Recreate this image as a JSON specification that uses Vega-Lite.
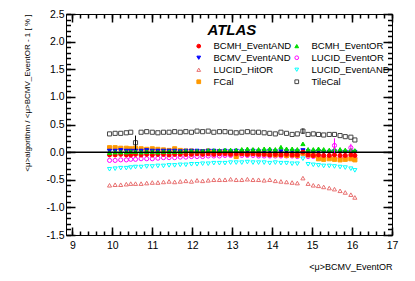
{
"$schema": "https://vega.github.io/schema/vega-lite/v6.json",
"width": 326, "height": 221,
"autosize": "none",
"padding": {"left": 66, "top": 14, "right": 23, "bottom": 46},
"background": "white",
"config": {"view": {"stroke": "black"}, "font": "Liberation Sans"},
"resolve": {"axis": {"x": "independent", "y": "independent"}},
"layer": [
{"data": {"values": [
{"s":"LUCID_HitOR","x":9.93,"y":-0.6},{"s":"LUCID_HitOR","x":10.07,"y":-0.59},{"s":"LUCID_HitOR","x":10.21,"y":-0.59},{"s":"LUCID_HitOR","x":10.35,"y":-0.58},{"s":"LUCID_HitOR","x":10.46,"y":-0.57},{"s":"LUCID_HitOR","x":10.58,"y":-0.57},{"s":"LUCID_HitOR","x":10.72,"y":-0.57},{"s":"LUCID_HitOR","x":10.86,"y":-0.56},{"s":"LUCID_HitOR","x":11.0,"y":-0.55},{"s":"LUCID_HitOR","x":11.14,"y":-0.55},
{"s":"LUCID_HitOR","x":11.28,"y":-0.54},{"s":"LUCID_HitOR","x":11.42,"y":-0.53},{"s":"LUCID_HitOR","x":11.56,"y":-0.54},{"s":"LUCID_HitOR","x":11.7,"y":-0.53},{"s":"LUCID_HitOR","x":11.84,"y":-0.52},{"s":"LUCID_HitOR","x":11.98,"y":-0.53},{"s":"LUCID_HitOR","x":12.12,"y":-0.51},{"s":"LUCID_HitOR","x":12.26,"y":-0.52},{"s":"LUCID_HitOR","x":12.4,"y":-0.51},{"s":"LUCID_HitOR","x":12.54,"y":-0.5},
{"s":"LUCID_HitOR","x":12.68,"y":-0.5},{"s":"LUCID_HitOR","x":12.82,"y":-0.5},{"s":"LUCID_HitOR","x":12.96,"y":-0.49},{"s":"LUCID_HitOR","x":13.1,"y":-0.5},{"s":"LUCID_HitOR","x":13.24,"y":-0.5},{"s":"LUCID_HitOR","x":13.38,"y":-0.49},{"s":"LUCID_HitOR","x":13.52,"y":-0.5},{"s":"LUCID_HitOR","x":13.66,"y":-0.5},{"s":"LUCID_HitOR","x":13.8,"y":-0.51},{"s":"LUCID_HitOR","x":13.94,"y":-0.5},
{"s":"LUCID_HitOR","x":14.08,"y":-0.52},{"s":"LUCID_HitOR","x":14.22,"y":-0.53},{"s":"LUCID_HitOR","x":14.36,"y":-0.54},{"s":"LUCID_HitOR","x":14.5,"y":-0.55},{"s":"LUCID_HitOR","x":14.63,"y":-0.56},{"s":"LUCID_HitOR","x":14.77,"y":-0.47},{"s":"LUCID_HitOR","x":14.9,"y":-0.57},{"s":"LUCID_HitOR","x":15.03,"y":-0.6},{"s":"LUCID_HitOR","x":15.16,"y":-0.61},{"s":"LUCID_HitOR","x":15.29,"y":-0.63},
{"s":"LUCID_HitOR","x":15.43,"y":-0.65},{"s":"LUCID_HitOR","x":15.56,"y":-0.67},{"s":"LUCID_HitOR","x":15.7,"y":-0.7},{"s":"LUCID_HitOR","x":15.83,"y":-0.73},{"s":"LUCID_HitOR","x":15.97,"y":-0.77},{"s":"LUCID_HitOR","x":16.07,"y":-0.82},
{"s":"LUCID_EventAND","x":9.93,"y":-0.31},{"s":"LUCID_EventAND","x":10.07,"y":-0.3},{"s":"LUCID_EventAND","x":10.21,"y":-0.29},{"s":"LUCID_EventAND","x":10.35,"y":-0.29},{"s":"LUCID_EventAND","x":10.46,"y":-0.28},{"s":"LUCID_EventAND","x":10.58,"y":-0.27},{"s":"LUCID_EventAND","x":10.72,"y":-0.27},{"s":"LUCID_EventAND","x":10.86,"y":-0.26},{"s":"LUCID_EventAND","x":11.0,"y":-0.26},{"s":"LUCID_EventAND","x":11.14,"y":-0.25},
{"s":"LUCID_EventAND","x":11.28,"y":-0.25},{"s":"LUCID_EventAND","x":11.42,"y":-0.24},{"s":"LUCID_EventAND","x":11.56,"y":-0.24},{"s":"LUCID_EventAND","x":11.7,"y":-0.23},{"s":"LUCID_EventAND","x":11.84,"y":-0.23},{"s":"LUCID_EventAND","x":11.98,"y":-0.22},{"s":"LUCID_EventAND","x":12.12,"y":-0.22},{"s":"LUCID_EventAND","x":12.26,"y":-0.21},{"s":"LUCID_EventAND","x":12.4,"y":-0.21},{"s":"LUCID_EventAND","x":12.54,"y":-0.2},
{"s":"LUCID_EventAND","x":12.68,"y":-0.2},{"s":"LUCID_EventAND","x":12.82,"y":-0.2},{"s":"LUCID_EventAND","x":12.96,"y":-0.19},{"s":"LUCID_EventAND","x":13.1,"y":-0.19},{"s":"LUCID_EventAND","x":13.24,"y":-0.19},{"s":"LUCID_EventAND","x":13.38,"y":-0.18},{"s":"LUCID_EventAND","x":13.52,"y":-0.19},{"s":"LUCID_EventAND","x":13.66,"y":-0.19},{"s":"LUCID_EventAND","x":13.8,"y":-0.19},{"s":"LUCID_EventAND","x":13.94,"y":-0.2},
{"s":"LUCID_EventAND","x":14.08,"y":-0.19},{"s":"LUCID_EventAND","x":14.22,"y":-0.2},{"s":"LUCID_EventAND","x":14.36,"y":-0.2},{"s":"LUCID_EventAND","x":14.5,"y":-0.21},{"s":"LUCID_EventAND","x":14.63,"y":-0.21},{"s":"LUCID_EventAND","x":14.77,"y":-0.12},{"s":"LUCID_EventAND","x":14.9,"y":-0.22},{"s":"LUCID_EventAND","x":15.03,"y":-0.23},{"s":"LUCID_EventAND","x":15.16,"y":-0.24},{"s":"LUCID_EventAND","x":15.29,"y":-0.25},
{"s":"LUCID_EventAND","x":15.43,"y":-0.25},{"s":"LUCID_EventAND","x":15.56,"y":-0.26},{"s":"LUCID_EventAND","x":15.7,"y":-0.27},{"s":"LUCID_EventAND","x":15.83,"y":-0.28},{"s":"LUCID_EventAND","x":15.97,"y":-0.3},{"s":"LUCID_EventAND","x":16.07,"y":-0.33},
{"s":"LUCID_EventOR","x":9.93,"y":-0.15},{"s":"LUCID_EventOR","x":10.07,"y":-0.15},{"s":"LUCID_EventOR","x":10.21,"y":-0.14},{"s":"LUCID_EventOR","x":10.35,"y":-0.14},{"s":"LUCID_EventOR","x":10.46,"y":-0.13},{"s":"LUCID_EventOR","x":10.58,"y":-0.13},{"s":"LUCID_EventOR","x":10.72,"y":-0.12},{"s":"LUCID_EventOR","x":10.86,"y":-0.12},{"s":"LUCID_EventOR","x":11.0,"y":-0.12},{"s":"LUCID_EventOR","x":11.14,"y":-0.11},
{"s":"LUCID_EventOR","x":11.28,"y":-0.1},{"s":"LUCID_EventOR","x":11.42,"y":-0.1},{"s":"LUCID_EventOR","x":11.56,"y":-0.1},{"s":"LUCID_EventOR","x":11.7,"y":-0.09},{"s":"LUCID_EventOR","x":11.84,"y":-0.09},{"s":"LUCID_EventOR","x":11.98,"y":-0.08},{"s":"LUCID_EventOR","x":12.12,"y":-0.08},{"s":"LUCID_EventOR","x":12.26,"y":-0.08},{"s":"LUCID_EventOR","x":12.4,"y":-0.07},{"s":"LUCID_EventOR","x":12.54,"y":-0.07},
{"s":"LUCID_EventOR","x":12.68,"y":-0.07},{"s":"LUCID_EventOR","x":12.82,"y":-0.06},{"s":"LUCID_EventOR","x":12.96,"y":-0.06},{"s":"LUCID_EventOR","x":13.1,"y":-0.06},{"s":"LUCID_EventOR","x":13.24,"y":-0.06},{"s":"LUCID_EventOR","x":13.38,"y":-0.06},{"s":"LUCID_EventOR","x":13.52,"y":-0.06},{"s":"LUCID_EventOR","x":13.66,"y":-0.07},{"s":"LUCID_EventOR","x":13.8,"y":-0.07},{"s":"LUCID_EventOR","x":13.94,"y":-0.07},
{"s":"LUCID_EventOR","x":14.08,"y":-0.07},{"s":"LUCID_EventOR","x":14.22,"y":-0.07},{"s":"LUCID_EventOR","x":14.36,"y":-0.07},{"s":"LUCID_EventOR","x":14.5,"y":-0.07},{"s":"LUCID_EventOR","x":14.63,"y":-0.08},{"s":"LUCID_EventOR","x":14.77,"y":-0.03},{"s":"LUCID_EventOR","x":14.9,"y":-0.08},{"s":"LUCID_EventOR","x":15.03,"y":-0.08},{"s":"LUCID_EventOR","x":15.16,"y":-0.1},{"s":"LUCID_EventOR","x":15.29,"y":-0.09},
{"s":"LUCID_EventOR","x":15.43,"y":-0.09},{"s":"LUCID_EventOR","x":15.56,"y":0.12},{"s":"LUCID_EventOR","x":15.7,"y":-0.1},{"s":"LUCID_EventOR","x":15.83,"y":-0.09},{"s":"LUCID_EventOR","x":15.97,"y":0.08},{"s":"LUCID_EventOR","x":16.07,"y":-0.1},
{"s":"TileCal","x":9.93,"y":0.33},{"s":"TileCal","x":10.07,"y":0.34},{"s":"TileCal","x":10.21,"y":0.34},{"s":"TileCal","x":10.35,"y":0.35},{"s":"TileCal","x":10.46,"y":0.36},{"s":"TileCal","x":10.58,"y":0.17},{"s":"TileCal","x":10.72,"y":0.36},{"s":"TileCal","x":10.86,"y":0.37},{"s":"TileCal","x":11.0,"y":0.36},{"s":"TileCal","x":11.14,"y":0.35},
{"s":"TileCal","x":11.28,"y":0.36},{"s":"TileCal","x":11.42,"y":0.36},{"s":"TileCal","x":11.56,"y":0.37},{"s":"TileCal","x":11.7,"y":0.36},{"s":"TileCal","x":11.84,"y":0.37},{"s":"TileCal","x":11.98,"y":0.36},{"s":"TileCal","x":12.12,"y":0.38},{"s":"TileCal","x":12.26,"y":0.37},{"s":"TileCal","x":12.4,"y":0.38},{"s":"TileCal","x":12.54,"y":0.36},
{"s":"TileCal","x":12.68,"y":0.37},{"s":"TileCal","x":12.82,"y":0.37},{"s":"TileCal","x":12.96,"y":0.36},{"s":"TileCal","x":13.1,"y":0.35},{"s":"TileCal","x":13.24,"y":0.36},{"s":"TileCal","x":13.38,"y":0.37},{"s":"TileCal","x":13.52,"y":0.36},{"s":"TileCal","x":13.66,"y":0.36},{"s":"TileCal","x":13.8,"y":0.35},{"s":"TileCal","x":13.94,"y":0.34},
{"s":"TileCal","x":14.08,"y":0.33},{"s":"TileCal","x":14.22,"y":0.36},{"s":"TileCal","x":14.36,"y":0.34},{"s":"TileCal","x":14.5,"y":0.32},{"s":"TileCal","x":14.63,"y":0.33},{"s":"TileCal","x":14.77,"y":0.38},{"s":"TileCal","x":14.9,"y":0.32},{"s":"TileCal","x":15.03,"y":0.33},{"s":"TileCal","x":15.16,"y":0.32},{"s":"TileCal","x":15.29,"y":0.31},
{"s":"TileCal","x":15.43,"y":0.32},{"s":"TileCal","x":15.56,"y":0.32},{"s":"TileCal","x":15.7,"y":0.3},{"s":"TileCal","x":15.83,"y":0.28},{"s":"TileCal","x":15.97,"y":0.27},{"s":"TileCal","x":16.07,"y":0.22},
{"s":"FCal","x":9.93,"y":0.08},{"s":"FCal","x":10.07,"y":0.08},{"s":"FCal","x":10.21,"y":0.07},{"s":"FCal","x":10.35,"y":0.07},{"s":"FCal","x":10.46,"y":0.06},{"s":"FCal","x":10.58,"y":0.07},{"s":"FCal","x":10.72,"y":0.06},{"s":"FCal","x":10.86,"y":0.05},{"s":"FCal","x":11.0,"y":0.06},{"s":"FCal","x":11.14,"y":0.05},
{"s":"FCal","x":11.28,"y":0.04},{"s":"FCal","x":11.42,"y":0.03},{"s":"FCal","x":11.56,"y":0.06},{"s":"FCal","x":11.7,"y":0.03},{"s":"FCal","x":11.84,"y":0.02},{"s":"FCal","x":11.98,"y":0.02},{"s":"FCal","x":12.12,"y":0.01},{"s":"FCal","x":12.26,"y":0.01},{"s":"FCal","x":12.4,"y":0.02},{"s":"FCal","x":12.54,"y":0.0},
{"s":"FCal","x":12.68,"y":0.01},{"s":"FCal","x":12.82,"y":0.0},{"s":"FCal","x":12.96,"y":-0.01},{"s":"FCal","x":13.1,"y":-0.08},{"s":"FCal","x":13.24,"y":-0.02},{"s":"FCal","x":13.38,"y":-0.03},{"s":"FCal","x":13.52,"y":-0.02},{"s":"FCal","x":13.66,"y":-0.03},{"s":"FCal","x":13.8,"y":-0.03},{"s":"FCal","x":13.94,"y":-0.04},
{"s":"FCal","x":14.08,"y":-0.05},{"s":"FCal","x":14.22,"y":-0.04},{"s":"FCal","x":14.36,"y":-0.06},{"s":"FCal","x":14.5,"y":-0.05},{"s":"FCal","x":14.63,"y":-0.06},{"s":"FCal","x":14.77,"y":-0.02},{"s":"FCal","x":14.9,"y":-0.05},{"s":"FCal","x":15.03,"y":-0.06},{"s":"FCal","x":15.16,"y":-0.12},{"s":"FCal","x":15.29,"y":-0.13},
{"s":"FCal","x":15.43,"y":-0.12},{"s":"FCal","x":15.56,"y":-0.13},{"s":"FCal","x":15.7,"y":-0.14},{"s":"FCal","x":15.83,"y":-0.13},{"s":"FCal","x":15.97,"y":-0.12},{"s":"FCal","x":16.07,"y":-0.14},
{"s":"BCMV_EventAND","x":9.93,"y":0.02},{"s":"BCMV_EventAND","x":10.07,"y":0.02},{"s":"BCMV_EventAND","x":10.21,"y":0.03},{"s":"BCMV_EventAND","x":10.35,"y":0.02},{"s":"BCMV_EventAND","x":10.46,"y":0.02},{"s":"BCMV_EventAND","x":10.58,"y":0.02},{"s":"BCMV_EventAND","x":10.72,"y":0.02},{"s":"BCMV_EventAND","x":10.86,"y":0.03},{"s":"BCMV_EventAND","x":11.0,"y":0.02},{"s":"BCMV_EventAND","x":11.14,"y":0.02},
{"s":"BCMV_EventAND","x":11.28,"y":0.02},{"s":"BCMV_EventAND","x":11.42,"y":0.02},{"s":"BCMV_EventAND","x":11.56,"y":0.02},{"s":"BCMV_EventAND","x":11.7,"y":0.01},{"s":"BCMV_EventAND","x":11.84,"y":0.02},{"s":"BCMV_EventAND","x":11.98,"y":0.02},{"s":"BCMV_EventAND","x":12.12,"y":0.02},{"s":"BCMV_EventAND","x":12.26,"y":0.01},{"s":"BCMV_EventAND","x":12.4,"y":0.02},{"s":"BCMV_EventAND","x":12.54,"y":0.02},
{"s":"BCMV_EventAND","x":12.68,"y":0.01},{"s":"BCMV_EventAND","x":12.82,"y":0.02},{"s":"BCMV_EventAND","x":12.96,"y":0.01},{"s":"BCMV_EventAND","x":13.1,"y":0.02},{"s":"BCMV_EventAND","x":13.24,"y":0.01},{"s":"BCMV_EventAND","x":13.38,"y":0.01},{"s":"BCMV_EventAND","x":13.52,"y":0.02},{"s":"BCMV_EventAND","x":13.66,"y":0.01},{"s":"BCMV_EventAND","x":13.8,"y":0.01},{"s":"BCMV_EventAND","x":13.94,"y":0.02},
{"s":"BCMV_EventAND","x":14.08,"y":0.01},{"s":"BCMV_EventAND","x":14.22,"y":0.01},{"s":"BCMV_EventAND","x":14.36,"y":0.01},{"s":"BCMV_EventAND","x":14.5,"y":0.01},{"s":"BCMV_EventAND","x":14.63,"y":0.01},{"s":"BCMV_EventAND","x":14.77,"y":0.03},{"s":"BCMV_EventAND","x":14.9,"y":0.01},{"s":"BCMV_EventAND","x":15.03,"y":0.0},{"s":"BCMV_EventAND","x":15.16,"y":0.01},{"s":"BCMV_EventAND","x":15.29,"y":0.0},
{"s":"BCMV_EventAND","x":15.43,"y":0.0},{"s":"BCMV_EventAND","x":15.56,"y":0.01},{"s":"BCMV_EventAND","x":15.7,"y":0.0},{"s":"BCMV_EventAND","x":15.83,"y":0.0},{"s":"BCMV_EventAND","x":15.97,"y":0.0},{"s":"BCMV_EventAND","x":16.07,"y":0.0},
{"s":"BCMH_EventAND","x":9.93,"y":-0.05},{"s":"BCMH_EventAND","x":10.07,"y":-0.05},{"s":"BCMH_EventAND","x":10.21,"y":-0.04},{"s":"BCMH_EventAND","x":10.35,"y":-0.05},{"s":"BCMH_EventAND","x":10.46,"y":-0.05},{"s":"BCMH_EventAND","x":10.58,"y":-0.04},{"s":"BCMH_EventAND","x":10.72,"y":-0.05},{"s":"BCMH_EventAND","x":10.86,"y":-0.04},{"s":"BCMH_EventAND","x":11.0,"y":-0.05},{"s":"BCMH_EventAND","x":11.14,"y":-0.04},
{"s":"BCMH_EventAND","x":11.28,"y":-0.04},{"s":"BCMH_EventAND","x":11.42,"y":-0.05},{"s":"BCMH_EventAND","x":11.56,"y":-0.04},{"s":"BCMH_EventAND","x":11.7,"y":-0.04},{"s":"BCMH_EventAND","x":11.84,"y":-0.04},{"s":"BCMH_EventAND","x":11.98,"y":-0.04},{"s":"BCMH_EventAND","x":12.12,"y":-0.03},{"s":"BCMH_EventAND","x":12.26,"y":-0.04},{"s":"BCMH_EventAND","x":12.4,"y":-0.03},{"s":"BCMH_EventAND","x":12.54,"y":-0.04},
{"s":"BCMH_EventAND","x":12.68,"y":-0.03},{"s":"BCMH_EventAND","x":12.82,"y":-0.03},{"s":"BCMH_EventAND","x":12.96,"y":-0.04},{"s":"BCMH_EventAND","x":13.1,"y":-0.03},{"s":"BCMH_EventAND","x":13.24,"y":-0.03},{"s":"BCMH_EventAND","x":13.38,"y":-0.04},{"s":"BCMH_EventAND","x":13.52,"y":-0.03},{"s":"BCMH_EventAND","x":13.66,"y":-0.04},{"s":"BCMH_EventAND","x":13.8,"y":-0.04},{"s":"BCMH_EventAND","x":13.94,"y":-0.05},
{"s":"BCMH_EventAND","x":14.08,"y":-0.04},{"s":"BCMH_EventAND","x":14.22,"y":-0.05},{"s":"BCMH_EventAND","x":14.36,"y":-0.04},{"s":"BCMH_EventAND","x":14.5,"y":-0.05},{"s":"BCMH_EventAND","x":14.63,"y":-0.05},{"s":"BCMH_EventAND","x":14.77,"y":0.0},{"s":"BCMH_EventAND","x":14.9,"y":-0.05},{"s":"BCMH_EventAND","x":15.03,"y":-0.06},{"s":"BCMH_EventAND","x":15.16,"y":-0.05},{"s":"BCMH_EventAND","x":15.29,"y":-0.06},
{"s":"BCMH_EventAND","x":15.43,"y":-0.06},{"s":"BCMH_EventAND","x":15.56,"y":-0.05},{"s":"BCMH_EventAND","x":15.7,"y":-0.06},{"s":"BCMH_EventAND","x":15.83,"y":-0.06},{"s":"BCMH_EventAND","x":15.97,"y":-0.05},{"s":"BCMH_EventAND","x":16.07,"y":-0.06},
{"s":"BCMH_EventOR","x":9.93,"y":-0.01},{"s":"BCMH_EventOR","x":10.07,"y":0.0},{"s":"BCMH_EventOR","x":10.21,"y":0.0},{"s":"BCMH_EventOR","x":10.35,"y":0.0},{"s":"BCMH_EventOR","x":10.46,"y":0.01},{"s":"BCMH_EventOR","x":10.58,"y":0.01},{"s":"BCMH_EventOR","x":10.72,"y":0.0},{"s":"BCMH_EventOR","x":10.86,"y":0.01},{"s":"BCMH_EventOR","x":11.0,"y":0.01},{"s":"BCMH_EventOR","x":11.14,"y":0.0},
{"s":"BCMH_EventOR","x":11.28,"y":0.01},{"s":"BCMH_EventOR","x":11.42,"y":0.01},{"s":"BCMH_EventOR","x":11.56,"y":0.01},{"s":"BCMH_EventOR","x":11.7,"y":0.01},{"s":"BCMH_EventOR","x":11.84,"y":0.02},{"s":"BCMH_EventOR","x":11.98,"y":0.02},{"s":"BCMH_EventOR","x":12.12,"y":0.02},{"s":"BCMH_EventOR","x":12.26,"y":0.02},{"s":"BCMH_EventOR","x":12.4,"y":0.03},{"s":"BCMH_EventOR","x":12.54,"y":0.03},
{"s":"BCMH_EventOR","x":12.68,"y":0.03},{"s":"BCMH_EventOR","x":12.82,"y":0.04},{"s":"BCMH_EventOR","x":12.96,"y":0.04},{"s":"BCMH_EventOR","x":13.1,"y":0.04},{"s":"BCMH_EventOR","x":13.24,"y":0.05},{"s":"BCMH_EventOR","x":13.38,"y":0.06},{"s":"BCMH_EventOR","x":13.52,"y":0.05},{"s":"BCMH_EventOR","x":13.66,"y":0.05},{"s":"BCMH_EventOR","x":13.8,"y":0.06},{"s":"BCMH_EventOR","x":13.94,"y":0.06},
{"s":"BCMH_EventOR","x":14.08,"y":0.05},{"s":"BCMH_EventOR","x":14.22,"y":0.09},{"s":"BCMH_EventOR","x":14.36,"y":0.06},{"s":"BCMH_EventOR","x":14.5,"y":0.06},{"s":"BCMH_EventOR","x":14.63,"y":0.05},{"s":"BCMH_EventOR","x":14.77,"y":0.15},{"s":"BCMH_EventOR","x":14.9,"y":0.05},{"s":"BCMH_EventOR","x":15.03,"y":0.05},{"s":"BCMH_EventOR","x":15.16,"y":0.06},{"s":"BCMH_EventOR","x":15.29,"y":0.05},
{"s":"BCMH_EventOR","x":15.43,"y":0.04},{"s":"BCMH_EventOR","x":15.56,"y":0.05},{"s":"BCMH_EventOR","x":15.7,"y":0.05},{"s":"BCMH_EventOR","x":15.83,"y":0.04},{"s":"BCMH_EventOR","x":15.97,"y":0.04},{"s":"BCMH_EventOR","x":16.07,"y":0.03}
]},
 "mark": {"type": "point", "filled": true, "size": 17, "strokeWidth": 1, "opacity": 1},
 "encoding": {
  "x": {"field": "x", "type": "quantitative", "scale": {"domain": [8.84, 17], "nice": false, "zero": false},
        "axis": {"orient": "bottom", "values": [9,10,11,12,13,14,15,16,17], "ticks": true, "tickSize": -8, "tickColor": "#000000", "tickWidth": 1.5, "tickOpacity": 1, "zindex": 1, "domain": false, "grid": false, "labelFontSize": 10.5, "labelPadding": 13, "labelColor": "black", "labelFlush": false, "labelOverlap": false,
                 "title": "<μ>BCMV_EventOR", "titleAnchor": "end", "titleFontSize": 9, "titleFontWeight": "normal", "titleColor": "black", "titlePadding": 12}},
  "y": {"field": "y", "type": "quantitative", "scale": {"domain": [-1.5, 2.5], "nice": false, "zero": false},
        "axis": {"orient": "left", "values": [-1.5,-1,-0.5,0,0.5,1,1.5,2,2.5], "ticks": true, "tickSize": -9, "tickColor": "#000000", "tickWidth": 1.5, "tickOpacity": 1, "zindex": 1, "domain": false, "grid": false, "labelFontSize": 10.5, "labelPadding": 11, "labelColor": "black", "labelFlush": false, "labelOverlap": false,
                 "labelExpr": "replace(datum.label, '\u2212', '-')",
                 "title": "<μ>algorithm / <μ>BCMV_EventOR - 1 [ % ]", "titleAnchor": "end", "titleFontSize": 8, "titleFontWeight": "normal", "titleColor": "black", "titlePadding": 14}},
  "fill": {"field": "s", "type": "nominal",
           "scale": {"domain": ["BCMH_EventAND","BCMV_EventAND","LUCID_HitOR","FCal","BCMH_EventOR","LUCID_EventOR","LUCID_EventAND","TileCal"],
                     "range": ["#ff0000","#0000ff","transparent","#ff9900","#00dd00","transparent","transparent","transparent"]},
           "legend": {"orient": "none", "legendX": 128, "legendY": 27, "columns": 2, "title": null, "labelFontSize": 9.5, "labelFont": "Liberation Sans", "labelColor": "black", "symbolSize": 14, "symbolStrokeWidth": 1, "rowPadding": 1, "columnPadding": -2, "labelOffset": 10, "padding": 0}},
  "stroke": {"field": "s", "type": "nominal",
           "scale": {"domain": ["BCMH_EventAND","BCMV_EventAND","LUCID_HitOR","FCal","BCMH_EventOR","LUCID_EventOR","LUCID_EventAND","TileCal"],
                     "range": ["#ff0000","#0000ff","#e87070","#ff9900","#00dd00","#ff00ff","#00ffff","#444444"]},
           "legend": {"orient": "none", "legendX": 128, "legendY": 27, "columns": 2, "title": null, "labelFontSize": 9.5, "labelFont": "Liberation Sans", "labelColor": "black", "symbolSize": 14, "symbolStrokeWidth": 1, "rowPadding": 1, "columnPadding": -2, "labelOffset": 10, "padding": 0}},
  "shape": {"field": "s", "type": "nominal",
           "scale": {"domain": ["BCMH_EventAND","BCMV_EventAND","LUCID_HitOR","FCal","BCMH_EventOR","LUCID_EventOR","LUCID_EventAND","TileCal"],
                     "range": ["circle","triangle-down","triangle-up","square","triangle-up","circle","triangle-down","square"]},
           "legend": {"orient": "none", "legendX": 128, "legendY": 27, "columns": 2, "title": null, "labelFontSize": 9.5, "labelFont": "Liberation Sans", "labelColor": "black", "symbolSize": 14, "symbolStrokeWidth": 1, "rowPadding": 1, "columnPadding": -2, "labelOffset": 10, "padding": 0}}
 }},
{"data": {"values": [{"x": 9, "y": 0}]}, "mark": {"type": "point", "opacity": 0},
 "encoding": {
  "x": {"field": "x", "type": "quantitative", "axis": {"orient": "bottom", "values": [9,9.2,9.4,9.6,9.8,10,10.2,10.4,10.6,10.8,11,11.2,11.4,11.6,11.8,12,12.2,12.4,12.6,12.8,13,13.2,13.4,13.6,13.8,14,14.2,14.4,14.6,14.8,15,15.2,15.4,15.6,15.8,16,16.2,16.4,16.6,16.8,17], "labels": false, "domain": false, "grid": false, "tickSize": -4, "tickColor": "#000000", "tickWidth": 1.5, "tickOpacity": 1, "zindex": 1, "title": null}},
  "y": {"field": "y", "type": "quantitative", "axis": {"orient": "left", "values": [-1.5,-1.4,-1.3,-1.2,-1.1,-1,-0.9,-0.8,-0.7,-0.6,-0.5,-0.4,-0.3,-0.2,-0.1,0,0.1,0.2,0.3,0.4,0.5,0.6,0.7,0.8,0.9,1,1.1,1.2,1.3,1.4,1.5,1.6,1.7,1.8,1.9,2,2.1,2.2,2.3,2.4,2.5], "labels": false, "domain": false, "grid": false, "tickSize": -4.5, "tickColor": "#000000", "tickWidth": 1.5, "tickOpacity": 1, "zindex": 1, "title": null}}}},
{"data": {"values": [{"x": 9, "y": 0}]}, "mark": {"type": "point", "opacity": 0},
 "encoding": {
  "x": {"field": "x", "type": "quantitative", "axis": {"orient": "top", "values": [9,10,11,12,13,14,15,16,17], "labels": false, "domain": false, "grid": false, "tickSize": -8, "tickColor": "#000000", "tickWidth": 1.5, "tickOpacity": 1, "zindex": 1, "title": null}},
  "y": {"field": "y", "type": "quantitative", "axis": {"orient": "right", "values": [-1.5,-1,-0.5,0,0.5,1,1.5,2,2.5], "labels": false, "domain": false, "grid": false, "tickSize": -9, "tickColor": "#000000", "tickWidth": 1.5, "tickOpacity": 1, "zindex": 1, "title": null}}}},
{"data": {"values": [{"x": 9, "y": 0}]}, "mark": {"type": "point", "opacity": 0},
 "encoding": {
  "x": {"field": "x", "type": "quantitative", "axis": {"orient": "top", "values": [9,9.2,9.4,9.6,9.8,10,10.2,10.4,10.6,10.8,11,11.2,11.4,11.6,11.8,12,12.2,12.4,12.6,12.8,13,13.2,13.4,13.6,13.8,14,14.2,14.4,14.6,14.8,15,15.2,15.4,15.6,15.8,16,16.2,16.4,16.6,16.8,17], "labels": false, "domain": false, "grid": false, "tickSize": -4, "tickColor": "#000000", "tickWidth": 1.5, "tickOpacity": 1, "zindex": 1, "title": null}},
  "y": {"field": "y", "type": "quantitative", "axis": {"orient": "right", "values": [-1.5,-1.4,-1.3,-1.2,-1.1,-1,-0.9,-0.8,-0.7,-0.6,-0.5,-0.4,-0.3,-0.2,-0.1,0,0.1,0.2,0.3,0.4,0.5,0.6,0.7,0.8,0.9,1,1.1,1.2,1.3,1.4,1.5,1.6,1.7,1.8,1.9,2,2.1,2.2,2.3,2.4,2.5], "labels": false, "domain": false, "grid": false, "tickSize": -4.5, "tickColor": "#000000", "tickWidth": 1.5, "tickOpacity": 1, "zindex": 1, "title": null}}}},
{"data": {"values": [{"y": 0}]}, "mark": {"type": "rule", "color": "black", "strokeWidth": 1.5},
 "encoding": {"y": {"field": "y", "type": "quantitative", "axis": null}}},
{"data": {"values": [{"s":"TileCal","x":10.58,"lo":0.04,"hi":0.30},{"s":"TileCal","x":14.77,"lo":0.33,"hi":0.43}]},
 "mark": {"type": "rule", "color": "black", "strokeWidth": 1},
 "encoding": {"x": {"field": "x", "type": "quantitative", "axis": null}, "y": {"field": "lo", "type": "quantitative", "axis": null}, "y2": {"field": "hi"}}},
{"data": {"values": [{"s":"LUCID_EventOR","x":15.56,"lo":-0.01,"hi":0.25},{"s":"LUCID_EventOR","x":15.97,"lo":0.01,"hi":0.15}]},
 "mark": {"type": "rule", "color": "#ff00ff", "strokeWidth": 1},
 "encoding": {"x": {"field": "x", "type": "quantitative", "axis": null}, "y": {"field": "lo", "type": "quantitative", "axis": null}, "y2": {"field": "hi"}}},
{"data": {"values": [{}]},
 "mark": {"type": "text", "text": "ATLAS", "font": "Liberation Sans", "fontSize": 15, "fontWeight": "bold", "fontStyle": "italic", "align": "left", "baseline": "alphabetic", "color": "black"},
 "encoding": {"x": {"datum": 12.38, "type": "quantitative", "axis": null}, "y": {"datum": 2.12, "type": "quantitative", "axis": null}}}
]
}
